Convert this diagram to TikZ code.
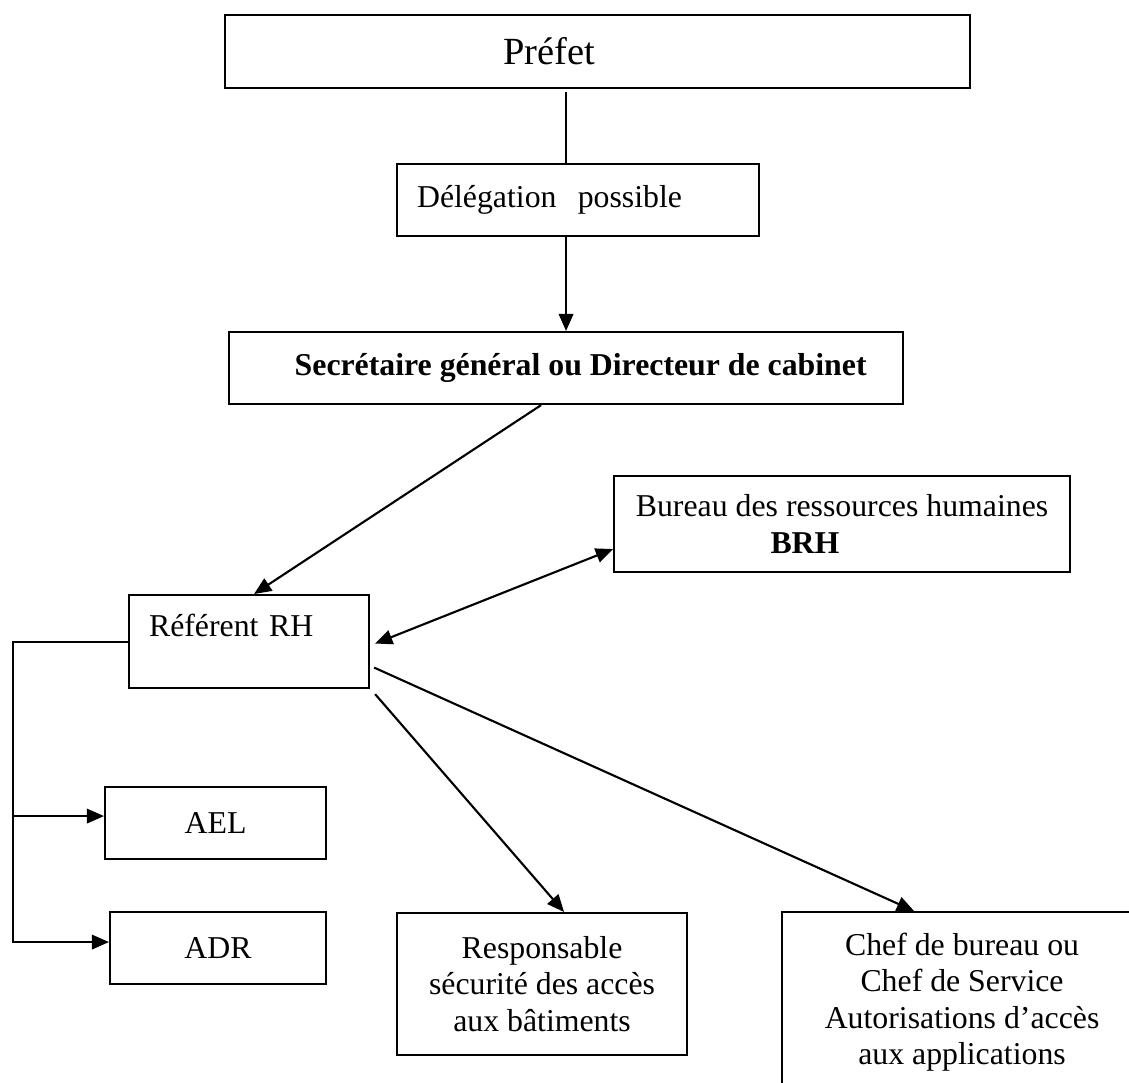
\documentclass[tikz,border=0pt]{standalone}
\usepackage{fontspec}
\setmainfont{Liberation Serif}
\usetikzlibrary{arrows.meta}
\newcommand{\px}{0.3774pt}

\begin{document}
\begin{tikzpicture}[x=\px,y=-\px,font=\fontsize{12}{13.8}\selectfont,
  box/.style={draw,rectangle,line width=0.8pt,align=center,inner sep=0pt,anchor=north west},
  arr/.style={-{Triangle[length=6.5pt,width=5.5pt]},line width=0.8pt},
  dblarr/.style={{Triangle[length=6.5pt,width=5.5pt]}-{Triangle[length=6.5pt,width=5.5pt]},line width=0.8pt},
  lnk/.style={line width=0.8pt}]
  \useasboundingbox (0,0) rectangle (1129,1082);
  \clip (0,0) rectangle (1129,1082);
  % top of the chain
  \node[box,minimum width=745*\px,minimum height=73*\px,font=\fontsize{14.5}{17}\selectfont](prefet) at (224,14){Préfet\hspace*{36.6pt}};
  \node[box,minimum width=362*\px,minimum height=72*\px,text width=322*\px,align=left](deleg) at (396,163){Délégation\ \ possible};
  \node[box,minimum width=674*\px,minimum height=72*\px](sec) at (228,331){\hspace*{11pt}\textbf{Secrétaire général ou Directeur de cabinet}};
  \node[box,minimum width=456*\px,minimum height=96*\px](brh) at (613,475){Bureau des ressources humaines\\\textbf{BRH}\hspace*{28pt}};
  \node[box,minimum width=240*\px,text width=200*\px,align=left,text height=41*\px,text depth=52*\px](ref) at (128,594){Référent RH};
  % services
  \node[box,minimum width=221*\px,minimum height=72*\px](ael) at (104,786){AEL};
  \node[box,minimum width=216*\px,minimum height=72*\px](adr) at (109,911){ADR};
  \node[box,minimum width=290*\px,minimum height=142*\px](resp) at (396,912){Responsable\\sécurité des accès\\aux bâtiments};
  \node[box,minimum width=360*\px,minimum height=180*\px](chef) at (781,911){Chef de bureau ou\\Chef de Service\\Autorisations d’accès\\aux applications};
  \coordinate (bus) at (13,0);
  % links
  \draw[lnk] ([shift={(0,3)}]prefet.south -| sec.north) -- (deleg.north -| sec.north);
  \draw[arr] (deleg.south -| sec.north) -- (sec.north);
  \draw[arr] ([shift={(-25,0)}]sec.south) -- ([shift={(5,0)}]ref.north);
  \draw[dblarr] ([shift={(5,2)}]ref.east) -- ([shift={(0,25)}]brh.west);
  \draw[arr] ([shift={(4,26)}]ref.east) -- ([shift={(-48,0)}]chef.north);
  \draw[arr] ([shift={(5,5)}]ref.south east) -- ([shift={(22,0)}]resp.north);
  \draw[arr] (ref.west) -| ([shift={(0,-6)}]bus |- adr.west) -- ([shift={(0,-6)}]adr.west);
  \draw[arr] ([shift={(0,-7)}]bus |- ael.west) -- ([shift={(0,-7)}]ael.west);
\end{tikzpicture}
\end{document}
